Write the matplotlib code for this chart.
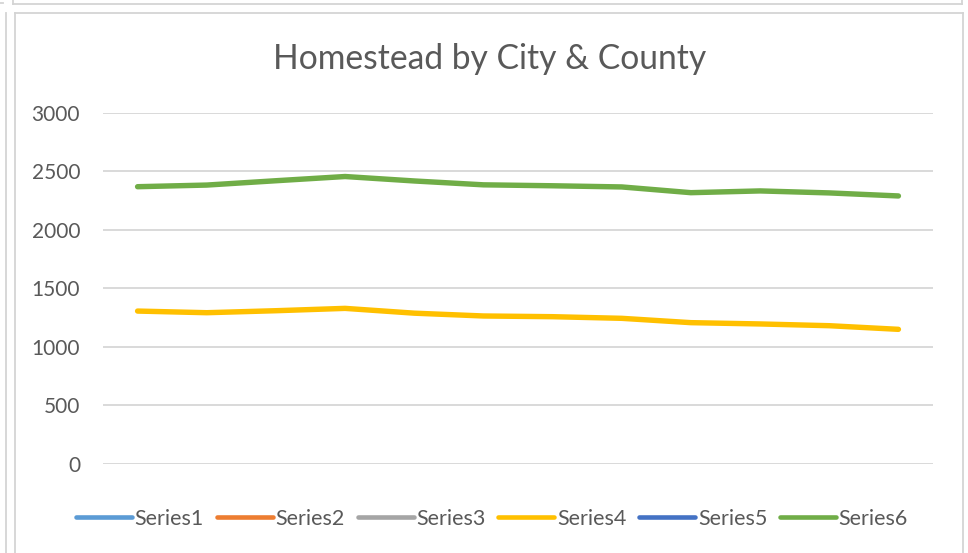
import numpy as np
from matplotlib import pyplot as plt
from matplotlib.lines import Line2D

# data (12 periods, no category labels shown)
periods = list(range(1, 13))
series1 = []
series2 = []
series3 = []
series4 = [1306, 1292, 1309, 1329, 1288, 1264, 1258, 1244, 1207, 1196, 1181, 1150]
series5 = []
series6 = [2368, 2382, 2419, 2455, 2417, 2384, 2376, 2366, 2317, 2332, 2315, 2289]

series_names = ['Series1', 'Series2', 'Series3', 'Series4', 'Series5', 'Series6']
series_colors = ['#5B9BD5', '#ED7D31', '#A5A5A5', '#FFC000', '#4472C4', '#70AD47']
y_ticks = [0, 500, 1000, 1500, 2000, 2500, 3000]

W, H = 968, 553
text_grey = '#595959'
plt.rcParams['font.family'] = ['Lato', 'DejaVu Sans']

fig = plt.figure(figsize=(W / 100, H / 100), dpi=100)
fig.patch.set_facecolor('white')

# plot area in pixels: x 103..933, y 112.7..464
ax = fig.add_axes([103 / W, 1 - 464 / H, 830 / W, 351.3 / H])

x = np.arange(len(periods))
all_series = [series1, series2, series3, series4, series5, series6]
for name, values, color in zip(series_names, all_series, series_colors):
    ax.plot(x[:len(values)], values, color=color, lw=3.9, label=name,
            solid_capstyle='round', solid_joinstyle='round')

ax.set_xlim(-0.5, len(periods) - 0.5)
ax.set_ylim(0, 3000)
ax.set_yticks(y_ticks)
ax.set_yticklabels([str(t) for t in y_ticks])
ax.set_xticks([])
ax.tick_params(axis='y', length=0, pad=16.5, labelsize=15, labelcolor=text_grey)
for s in ax.spines.values():
    s.set_visible(False)
ax.grid(axis='y', color='#d9d9d9', lw=1.4)
ax.set_axisbelow(True)

fig.text(490 / W, 1 - 59 / H, 'Homestead by City & County', ha='center', va='center',
         fontsize=24.2, color=text_grey)

leg = fig.legend(loc='center', bbox_to_anchor=(492 / W, 1 - 519 / H), ncol=6,
                 frameon=False, fontsize=15.5, handlelength=2.6, handletextpad=0.12,
                 columnspacing=0.6, labelcolor=text_grey)
for h in leg.get_lines():
    h.set_linewidth(3.3)


# light grey frame lines of the spreadsheet cells around the chart
def px_line(x0, y0, x1, y1):
    fig.add_artist(Line2D([x0 / W, x1 / W], [1 - y0 / H, 1 - y1 / H],
                          color='#d4d4d4', lw=1.3, transform=fig.transFigure))


px_line(15, 13, 963, 13)
px_line(15, 13, 15, 553)
px_line(963, 13, 963, 553)
px_line(6, 13, 6, 553)
px_line(13, 4, 962, 4)
px_line(13, 0, 13, 4)
px_line(962, 0, 962, 4)
px_line(0, 3, 3, 3)

fig.savefig('out.png', dpi=100)
